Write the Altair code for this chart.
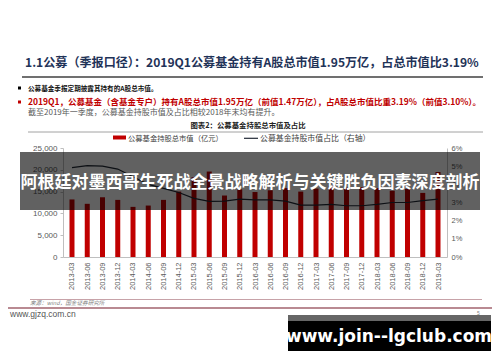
import altair as alt
import pandas as pd

dates = ["2013-03", "2013-06", "2013-09", "2013-12", "2014-03", "2014-06", "2014-09", "2014-12",
         "2015-03", "2015-06", "2015-09", "2015-12", "2016-03", "2016-06", "2016-09", "2016-12",
         "2017-03", "2017-06", "2017-09", "2017-12", "2018-03", "2018-06", "2018-09", "2018-12",
         "2019-03"]
market_value = [13200, 12200, 13700, 13100, 11500, 11800, 13100, 15000,
                18300, 19600, 14100, 15500, 14900, 15300, 15800, 15000,
                15700, 16200, 15900, 16000, 15800, 15200, 15600, 14700,
                19500]
ratio = [0.0492, 0.0503, 0.0500, 0.0484, 0.0442, 0.0400, 0.0378, 0.0355,
         0.0323, 0.0306, 0.0308, 0.0319, 0.0314, 0.0314, 0.0308, 0.0286,
         0.0286, 0.0290, 0.0282, 0.0282, 0.0290, 0.0300, 0.0300, 0.0310,
         0.0319]
left_ticks = [0, 5000, 10000, 15000, 20000, 25000]
right_ticks = [0, 0.01, 0.02, 0.03, 0.04, 0.05, 0.06]

df = pd.DataFrame({"date": dates, "value": market_value, "ratio": ratio})

CJK = "Noto Sans CJK SC"
LAT = "Liberation Sans"
OX, OY = 63, 148  # page position of plot origin
W, H = 384, 109
one = alt.Data(values=[{}])


def txt(s, x, y, size, color, weight="normal", align="left", font=CJK, style="normal"):
    return alt.Chart(one).mark_text(
        text=s, fontSize=size, color=color, fontWeight=weight, align=align,
        baseline="middle", font=font, fontStyle=style
    ).encode(x=alt.value(x - OX), y=alt.value(y - OY))


def box(x1, x2, y1, y2, color, opacity=1.0):
    return alt.Chart(one).mark_rect(color=color, opacity=opacity).encode(
        x=alt.value(x1 - OX), x2=alt.value(x2 - OX),
        y=alt.value(y1 - OY), y2=alt.value(y2 - OY))


def hline(x1, x2, y, color, w):
    return alt.Chart(one).mark_rule(color=color, strokeWidth=w).encode(
        x=alt.value(x1 - OX), x2=alt.value(x2 - OX), y=alt.value(y - OY))


xenc = alt.X("date:O", sort=dates,
             scale=alt.Scale(type="point", padding=0.59),
             axis=alt.Axis(title="", labelAngle=270, labelFontSize=7.5, labelColor="#595959",
                           labelFont=LAT, ticks=False, domainColor="#bfbfbf", labelPadding=5))

bars = alt.Chart(df).mark_bar(size=5, color="#c00000").encode(
    x=xenc,
    y=alt.Y("value:Q", scale=alt.Scale(domain=[0, 25000]),
            axis=alt.Axis(title="", values=left_ticks, grid=False, domainColor="#bfbfbf",
                          tickColor="#bfbfbf", tickSize=3, labelFontSize=8, labelFont=LAT,
                          labelColor="#595959", labelPadding=3)))

line = alt.Chart(df).mark_line(color="#222a36", strokeWidth=1.2).encode(
    x=alt.X("date:O", sort=dates),
    y=alt.Y("ratio:Q", scale=alt.Scale(domain=[0, 0.06]),
            axis=alt.Axis(title="", orient="right", format=".0%", values=right_ticks, grid=False,
                          domainColor="#bfbfbf", tickSize=0, labelFontSize=7.5, labelFont=LAT,
                          labelColor="#595959", labelPadding=4)))

layers = [
    bars, line,
    # header
    txt("1.1公募（季报口径）：2019Q1公募基金持有A股总市值1.95万亿，占总市值比3.19%",
        25, 63, 12.1, "#1f3358", weight="bold"),
    hline(22, 483, 77, "#404040", 1.5),
    box(18, 21, 86.5, 89.5, "#000000"),
    txt("公募基金季报定期披露其持有的A股总市值。", 28, 88.5, 6.6, "#111111", weight="bold"),
    box(18, 21, 100.5, 103.5, "#c00000"),
    txt("2019Q1，公募基金（含基金专户）持有A股总市值1.95万亿（前值1.47万亿），占A股总市值比重3.19%（前值3.10%）。",
        28, 102, 8.5, "#c00000", weight="bold"),
    txt("截至2019年一季度，公募基金持股市值及占比相较2018年末均有提升。",
        28, 112.5, 8.0, "#595959"),
    txt("图表2：公募基金持股总市值及占比", 248, 126, 7.4, "#222222", weight="bold", align="center"),
    hline(28, 483, 132, "#8c8c8c", 0.8),
    # legend
    box(113, 126, 135.5, 139.5, "#c00000"),
    txt("公募基金持股总市值（亿元）", 128, 138.5, 7.3, "#404040"),
    hline(244, 258, 138.3, "#222a36", 1.2),
    txt("公募基金持股市值占比（右轴）", 260, 138.5, 7.9, "#404040"),
    # footer
    hline(30, 482, 299.5, "#b98a92", 0.8),
    txt("来源：wind，国金证券研究所", 30, 302.5, 5.6, "#7f7f7f", style="italic"),
    hline(8, 492, 308, "#b98a92", 2),
    txt("www.gjzq.com.cn", 10, 314, 8.5, "#555555", font=LAT),
    txt("5", 477, 313, 5, "#7f7f7f", font=LAT),
    # overlay banner
    box(20, 480, 152, 210, "#000000", 0.62),
    txt("阿根廷对墨西哥生死战全景战略解析与关键胜负因素深度剖析", 250, 183, 17, "#ffffff",
        weight="bold", align="center"),
    # watermark
    box(288, 491, 315, 321, "#666666"),
    box(288, 491, 321, 351, "#000000"),
    txt("www.join--lgclub.com", 389, 336.5, 17, "#ffffff", weight="bold", align="center",
        font="DejaVu Sans"),
]

chart = alt.layer(*layers).resolve_scale(y="independent").properties(
    width=W, height=H,
    autosize=alt.AutoSizeParams(type="none"),
    padding={"left": OX - 8, "top": OY - 8, "right": 492 - OX - W, "bottom": 343 - (OY - 8) - H},
    background="#ffffff",
).configure_view(strokeWidth=0)

chart.save("out.html", embed_options={"renderer": "svg", "actions": False})
